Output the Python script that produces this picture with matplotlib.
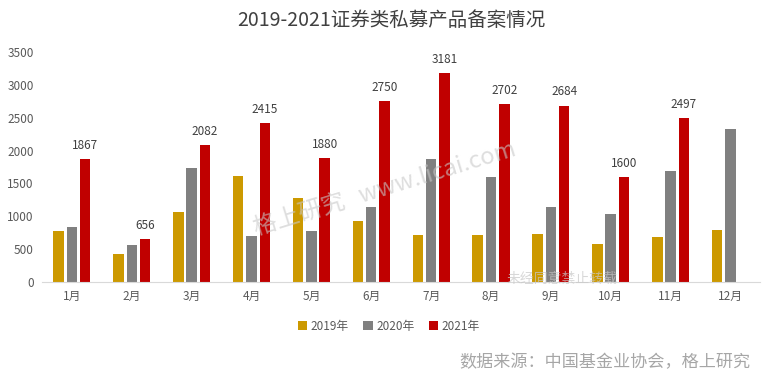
import matplotlib
matplotlib.use("Agg")
import matplotlib.pyplot as plt
import numpy as np

plt.rcParams['font.family'] = ['Noto Sans CJK SC', 'DejaVu Sans']

months = ["1月", "2月", "3月", "4月", "5月", "6月", "7月", "8月", "9月", "10月", "11月", "12月"]
v2019 = [778, 429, 1067, 1613, 1284, 930, 718, 718, 733, 581, 687, 794]
v2020 = [839, 566, 1734, 703, 778, 1143, 1871, 1598, 1143, 1036, 1689, 2326]
v2021 = [1867, 656, 2082, 2415, 1880, 2750, 3181, 2702, 2684, 1600, 2497, None]
series_names = ["2019年", "2020年", "2021年"]
colors = ["#CC9900", "#808080", "#C00000"]
yticks = [0, 500, 1000, 1500, 2000, 2500, 3000, 3500]

fig = plt.figure(figsize=(7.7, 3.8), dpi=100)
ax = fig.add_axes([0.0545, 0.258, 0.933, 0.605])

x = np.arange(len(months))
w = 0.175
step = 0.222
for i, (vals, name, c) in enumerate(zip([v2019, v2020, v2021], series_names, colors)):
    xs = [xi + (i - 1) * step for xi, v in zip(x, vals) if v is not None]
    ys = [v for v in vals if v is not None]
    ax.bar(xs, ys, width=w, color=c, label=name)
    if i == 2:
        for xi, v in zip(xs, ys):
            ax.text(xi, v + 110, str(v), ha='center', va='bottom', fontsize=8.5, color='#404040')

ax.set_xlim(-0.5, len(months) - 0.5)
ax.set_ylim(0, 3500)
ax.set_yticks(yticks)
ax.set_yticklabels([str(t) for t in yticks], fontsize=8.5, color='#595959')
ax.set_xticks(x)
ax.set_xticklabels(months, fontsize=8.5, color='#595959')
ax.tick_params(axis='both', length=0)
ax.tick_params(axis='y', pad=6)
ax.tick_params(axis='x', pad=6)
for s in ['top', 'right', 'left']:
    ax.spines[s].set_visible(False)
ax.spines['bottom'].set_color('#D9D9D9')

fig.text(0.508, 0.945, "2019-2021证券类私募产品备案情况", ha='center', va='center',
         fontsize=14, color='#404040')

fig.legend(loc='center', bbox_to_anchor=(0.505, 0.142), ncol=3, frameon=False,
           fontsize=8.5, handlelength=0.8, handleheight=0.8, handletextpad=0.3,
           columnspacing=1.2, labelcolor='#595959')

fig.text(0.975, 0.047, "数据来源：中国基金业协会，格上研究", ha='right', va='center',
         fontsize=12.3, color='#A6A6A6')

# watermarks
fig.text(0.50, 0.50, "格上研究   www.licai.com", ha='center', va='center', rotation=17,
         fontsize=17, color='#C8C8C8', alpha=0.6)
fig.text(0.73, 0.265, "未经同意禁止转载", ha='center', va='center',
         fontsize=10, color='#C8C8C8', alpha=0.7)

fig.savefig("out.png", dpi=100)
